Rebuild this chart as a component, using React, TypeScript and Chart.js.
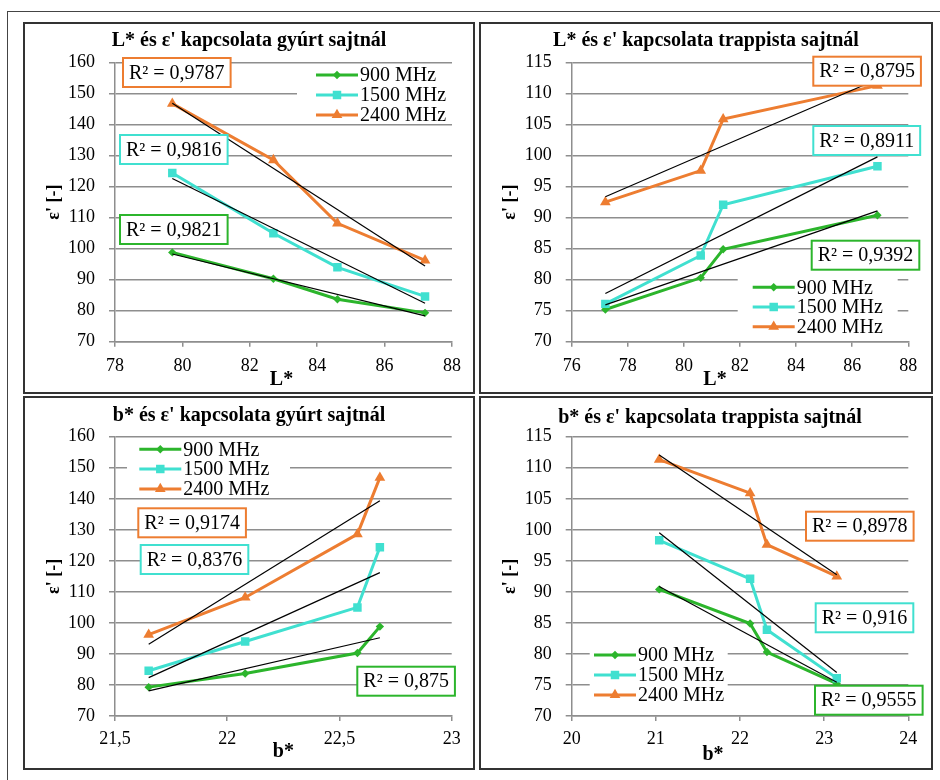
import React, { useEffect, useRef } from 'react';
import { Chart, registerables } from 'chart.js';

Chart.register(...registerables);

// ---------- data ----------
const frequencies = ['900 MHz', '1500 MHz', '2400 MHz'];

// colour values (L*, b*) of the four samples, in the same order as the ε' arrays
const lGyurt = [79.7, 82.7, 84.6, 87.2];
const bGyurt = [22.68, 22.58, 22.08, 21.65];
const lTrappista = [77.2, 80.6, 81.4, 86.9];
const bTrappista = [23.15, 22.32, 22.12, 21.04];

// ε' values per frequency
const eps900Gyurt = [98.8, 90.3, 83.7, 79.3];
const eps1500Gyurt = [124.4, 105.0, 94.0, 84.6];
const eps2400Gyurt = [146.8, 128.6, 108.2, 96.2];
const eps900Trappista = [75.2, 80.3, 84.9, 90.4];
const eps1500Trappista = [76.1, 83.9, 92.1, 98.3];
const eps2400Trappista = [92.5, 97.6, 105.9, 111.3];

// R² of the linear trendlines (900, 1500, 2400 MHz)
const r2LGyurt = ['0,9821', '0,9816', '0,9787'];
const r2LTrappista = ['0,9392', '0,8911', '0,8795'];
const r2BGyurt = ['0,875', '0,8376', '0,9174'];
const r2BTrappista = ['0,9555', '0,916', '0,8978'];

const panelTitles = [
  "L* és ε' kapcsolata gyúrt sajtnál",
  "L* és ε' kapcsolata trappista sajtnál",
  "b* és ε' kapcsolata gyúrt sajtnál",
  "b* és ε' kapcsolata trappista sajtnál",
];
const xTitles = ['L*', 'L*', 'b*', 'b*'];
const yTitle = "ε' [-]";

// axis ranges [min, max, step]
const xRanges = [
  [78, 88, 2],
  [76, 88, 2],
  [21.5, 23, 0.5],
  [20, 24, 1],
];
const yRanges = [
  [70, 160, 10],
  [70, 115, 5],
  [70, 160, 10],
  [70, 115, 5],
];

// ---------- styles ----------
const FONT = '"Liberation Serif", "Times New Roman", serif';
const seriesColors = ['#2cb52c', '#40e0d0', '#ed7d31'];
const markerStyles = ['rectRot', 'rect', 'triangle'];
const markerRadii = [4.2, 6, 6.2];
const gridColor = '#8e8e8e';

type Pt = { x: number; y: number };
interface PanelLayout {
  left: number;
  top: number;
  width: number;
  height: number;
  yAxisWidth: number;
  xAxisHeight: number;
  padRight: number;
  padTop: number;
  titleY: number;
  titleDX: number;
  xTickPad: number;
  xTitleY: number;
  xTitleDX: number;
  r2Pos: Pt[];
  legendLineX: number;
  legendRowsY: number[];
  legendBg: { x: number; y: number; w: number; h: number };
}

const layouts: PanelLayout[] = [
  {
    left: 23, top: 22, width: 452, height: 372,
    yAxisWidth: 90, xAxisHeight: 50.3, padRight: 21, padTop: 38.7,
    titleY: 16.5, titleDX: 0, xTickPad: 8.5, xTitleY: 356, xTitleDX: -2,
    r2Pos: [{ x: 5, y: 152.3 }, { x: 5, y: 72.3 }, { x: 8, y: -4.7 }],
    legendLineX: 201, legendRowsY: [12.3, 32.3, 52.3],
    legendBg: { x: 182, y: 2, w: 160, h: 58 },
  },
  {
    left: 479, top: 22, width: 454, height: 372,
    yAxisWidth: 90.7, xAxisHeight: 50.3, padRight: 22.7, padTop: 38.7,
    titleY: 16.5, titleDX: 0, xTickPad: 8.5, xTitleY: 356, xTitleDX: -25,
    r2Pos: [{ x: 240, y: 178 }, { x: 241.6, y: 63.3 }, { x: 241.6, y: -6 }],
    legendLineX: 181, legendRowsY: [224.6, 244.3, 264],
    legendBg: { x: 166, y: 212, w: 160, h: 64 },
  },
  {
    left: 23, top: 396, width: 452, height: 374,
    yAxisWidth: 90, xAxisHeight: 52, padRight: 21.3, padTop: 38.7,
    titleY: 17.5, titleDX: 0, xTickPad: 7, xTitleY: 354, xTitleDX: 0,
    r2Pos: [{ x: 242.3, y: 230 }, { x: 25.7, y: 108.3 }, { x: 23.3, y: 71.6 }],
    legendLineX: 24.3, legendRowsY: [12.6, 32.3, 52.3],
    legendBg: { x: 12, y: 2, w: 163, h: 58 },
  },
  {
    left: 479, top: 396, width: 454, height: 374,
    yAxisWidth: 90.7, xAxisHeight: 52, padRight: 22.7, padTop: 38.7,
    titleY: 20, titleDX: 4, xTickPad: 7, xTitleY: 357, xTitleDX: -27,
    r2Pos: [{ x: 243.3, y: 249 }, { x: 244, y: 166.6 }, { x: 234.3, y: 75 }],
    legendLineX: 22.3, legendRowsY: [218.3, 238.3, 258.3],
    legendBg: { x: 18, y: 205, w: 138, h: 66 },
  },
];

const panelX = [lGyurt, lTrappista, bGyurt, bTrappista];
const panelSeries = [
  [eps900Gyurt, eps1500Gyurt, eps2400Gyurt],
  [eps900Trappista, eps1500Trappista, eps2400Trappista],
  [eps900Gyurt, eps1500Gyurt, eps2400Gyurt],
  [eps900Trappista, eps1500Trappista, eps2400Trappista],
];
const panelR2 = [r2LGyurt, r2LTrappista, r2BGyurt, r2BTrappista];

// ---------- helpers ----------
function linearFit(xs: number[], ys: number[]) {
  const n = xs.length;
  const mx = xs.reduce((a, b) => a + b, 0) / n;
  const my = ys.reduce((a, b) => a + b, 0) / n;
  let sxy = 0;
  let sxx = 0;
  for (let i = 0; i < n; i++) {
    sxy += (xs[i] - mx) * (ys[i] - my);
    sxx += (xs[i] - mx) * (xs[i] - mx);
  }
  const slope = sxy / sxx;
  const icpt = my - slope * mx;
  const x0 = Math.min(...xs);
  const x1 = Math.max(...xs);
  return [
    { x: x0, y: icpt + slope * x0 },
    { x: x1, y: icpt + slope * x1 },
  ];
}

function drawMarker(ctx: CanvasRenderingContext2D, style: string, x: number, y: number, r: number, color: string) {
  ctx.fillStyle = color;
  ctx.beginPath();
  if (style === 'rectRot') {
    ctx.moveTo(x - r, y);
    ctx.lineTo(x, y - r);
    ctx.lineTo(x + r, y);
    ctx.lineTo(x, y + r);
  } else if (style === 'rect') {
    const s = r * Math.SQRT1_2;
    ctx.rect(x - s, y - s, 2 * s, 2 * s);
  } else {
    ctx.moveTo(x, y - r);
    ctx.lineTo(x + r * 0.866, y + r * 0.5);
    ctx.lineTo(x - r * 0.866, y + r * 0.5);
  }
  ctx.closePath();
  ctx.fill();
}

function fmt(v: number) {
  return String(Math.round(v * 100) / 100).replace('.', ',');
}

function overlayPlugin(L: PanelLayout, r2: string[], title: string, xTitle: string) {
  return {
    id: 'overlay',
    beforeDatasetsDraw(chart: any) {
      const { ctx, chartArea: a } = chart;
      ctx.save();
      ctx.fillStyle = '#ffffff';
      ctx.fillRect(a.left + L.legendBg.x, a.top + L.legendBg.y, L.legendBg.w, L.legendBg.h);
      ctx.restore();
    },
    afterDatasetsDraw(chart: any) {
      const { ctx, chartArea: a } = chart;
      ctx.save();
      ctx.textAlign = 'center';
      ctx.textBaseline = 'middle';
      ctx.fillStyle = '#000';
      // panel title, centred on the whole panel
      ctx.font = `bold 20px ${FONT}`;
      ctx.fillText(title, chart.width / 2 + L.titleDX, L.titleY);
      // x axis title
      ctx.fillText(xTitle, (a.left + a.right) / 2 + L.xTitleDX, L.xTitleY);

      ctx.font = `20px ${FONT}`;
      ctx.textBaseline = 'middle';
      ctx.textAlign = 'left';
      // legend
      frequencies.forEach((f, i) => {
        const y = a.top + L.legendRowsY[i];
        const x0 = a.left + L.legendLineX;
        ctx.strokeStyle = seriesColors[i];
        ctx.lineWidth = 3;
        ctx.beginPath();
        ctx.moveTo(x0, y);
        ctx.lineTo(x0 + 42, y);
        ctx.stroke();
        drawMarker(ctx, markerStyles[i], x0 + 21, y, markerRadii[i], seriesColors[i]);
        ctx.fillStyle = '#000';
        ctx.fillText(f, x0 + 44, y + 1);
      });
      // R² boxes
      r2.forEach((txt, i) => {
        const p = L.r2Pos[i];
        const label = `R² = ${txt}`;
        const w = ctx.measureText(label).width + 12;
        const h = 29;
        const x = a.left + p.x;
        const y = a.top + p.y;
        ctx.fillStyle = '#fff';
        ctx.fillRect(x, y, w, h);
        ctx.strokeStyle = seriesColors[i];
        ctx.lineWidth = 2;
        ctx.strokeRect(x, y, w, h);
        ctx.fillStyle = '#000';
        ctx.fillText(label, x + 6, y + h / 2 + 1);
      });
      ctx.restore();
    },
  };
}

function Panel({ idx }: { idx: number }) {
  const ref = useRef<HTMLCanvasElement | null>(null);
  const L = layouts[idx];
  const cw = L.width - 4;
  const ch = L.height - 4;

  useEffect(() => {
    if (!ref.current) return;
    const xs = panelX[idx];
    const series = panelSeries[idx];
    const [xMin, xMax, xStep] = xRanges[idx];
    const [yMin, yMax, yStep] = yRanges[idx];

    const datasets: any[] = [];
    series.forEach((ys, i) => {
      datasets.push({
        label: frequencies[i],
        data: xs.map((x, k) => ({ x, y: ys[k] })),
        showLine: true,
        borderColor: seriesColors[i],
        backgroundColor: seriesColors[i],
        borderWidth: 3,
        pointStyle: markerStyles[i],
        pointRadius: markerRadii[i],
        pointBorderWidth: 0,
        order: 3 - i,
      });
    });
    series.forEach((ys, i) => {
      datasets.push({
        label: 'trend ' + frequencies[i],
        data: linearFit(xs, ys),
        showLine: true,
        borderColor: '#000',
        borderWidth: 1.2,
        pointRadius: 0,
        order: 0,
      });
    });

    const chart = new Chart(ref.current, {
      type: 'scatter',
      data: { datasets },
      options: {
        responsive: false,
        animation: false,
        devicePixelRatio: 1,
        layout: { padding: { left: 0, right: L.padRight, top: L.padTop, bottom: 0 } },
        plugins: {
          legend: { display: false },
          tooltip: { enabled: false },
          title: { display: false },
        },
        scales: {
          x: {
            type: 'linear',
            min: xMin,
            max: xMax,
            afterFit: (s: any) => {
              s.height = L.xAxisHeight;
            },
            ticks: {
              stepSize: xStep,
              color: '#000',
              font: { family: FONT, size: 18 },
              padding: L.xTickPad,
              maxRotation: 0,
              autoSkip: false,
              callback: (v: any) => fmt(Number(v)),
            },
            grid: { drawOnChartArea: false, tickLength: 5, color: gridColor, lineWidth: 1.5 },
            border: { color: gridColor, width: 1.5 },
            title: { display: false },
          },
          y: {
            type: 'linear',
            min: yMin,
            max: yMax,
            afterFit: (s: any) => {
              s.width = L.yAxisWidth;
            },
            ticks: {
              stepSize: yStep,
              color: '#000',
              font: { family: FONT, size: 18 },
              padding: 14,
              autoSkip: false,
            },
            grid: { color: gridColor, lineWidth: 1.5, tickLength: 6 },
            border: { color: gridColor, width: 1.5 },
            title: {
              display: true,
              text: yTitle,
              color: '#000',
              font: { family: FONT, size: 18, weight: 'bold' },
              padding: { top: 19, bottom: 0 },
            },
          },
        },
      } as any,
      plugins: [overlayPlugin(L, panelR2[idx], panelTitles[idx], xTitles[idx]) as any],
    });
    return () => chart.destroy();
  }, [idx]);

  return (
    <div
      style={{
        position: 'absolute',
        left: L.left,
        top: L.top,
        width: L.width,
        height: L.height,
        border: '2px solid #333',
        boxSizing: 'border-box',
        background: '#fff',
      }}
    >
      <canvas ref={ref} width={cw} height={ch} style={{ display: 'block', width: cw, height: ch }} />
    </div>
  );
}

export default function App() {
  return (
    <div
      style={{
        position: 'fixed',
        left: 0,
        top: 0,
        width: 940,
        height: 780,
        background: '#fff',
        overflow: 'hidden',
      }}
    >
      <div
        style={{
          position: 'absolute',
          left: 7,
          top: 11,
          width: 960,
          height: 800,
          border: '1px solid #444',
          boxSizing: 'border-box',
        }}
      />
      {[0, 1, 2, 3].map((i) => (
        <Panel key={i} idx={i} />
      ))}
    </div>
  );
}
